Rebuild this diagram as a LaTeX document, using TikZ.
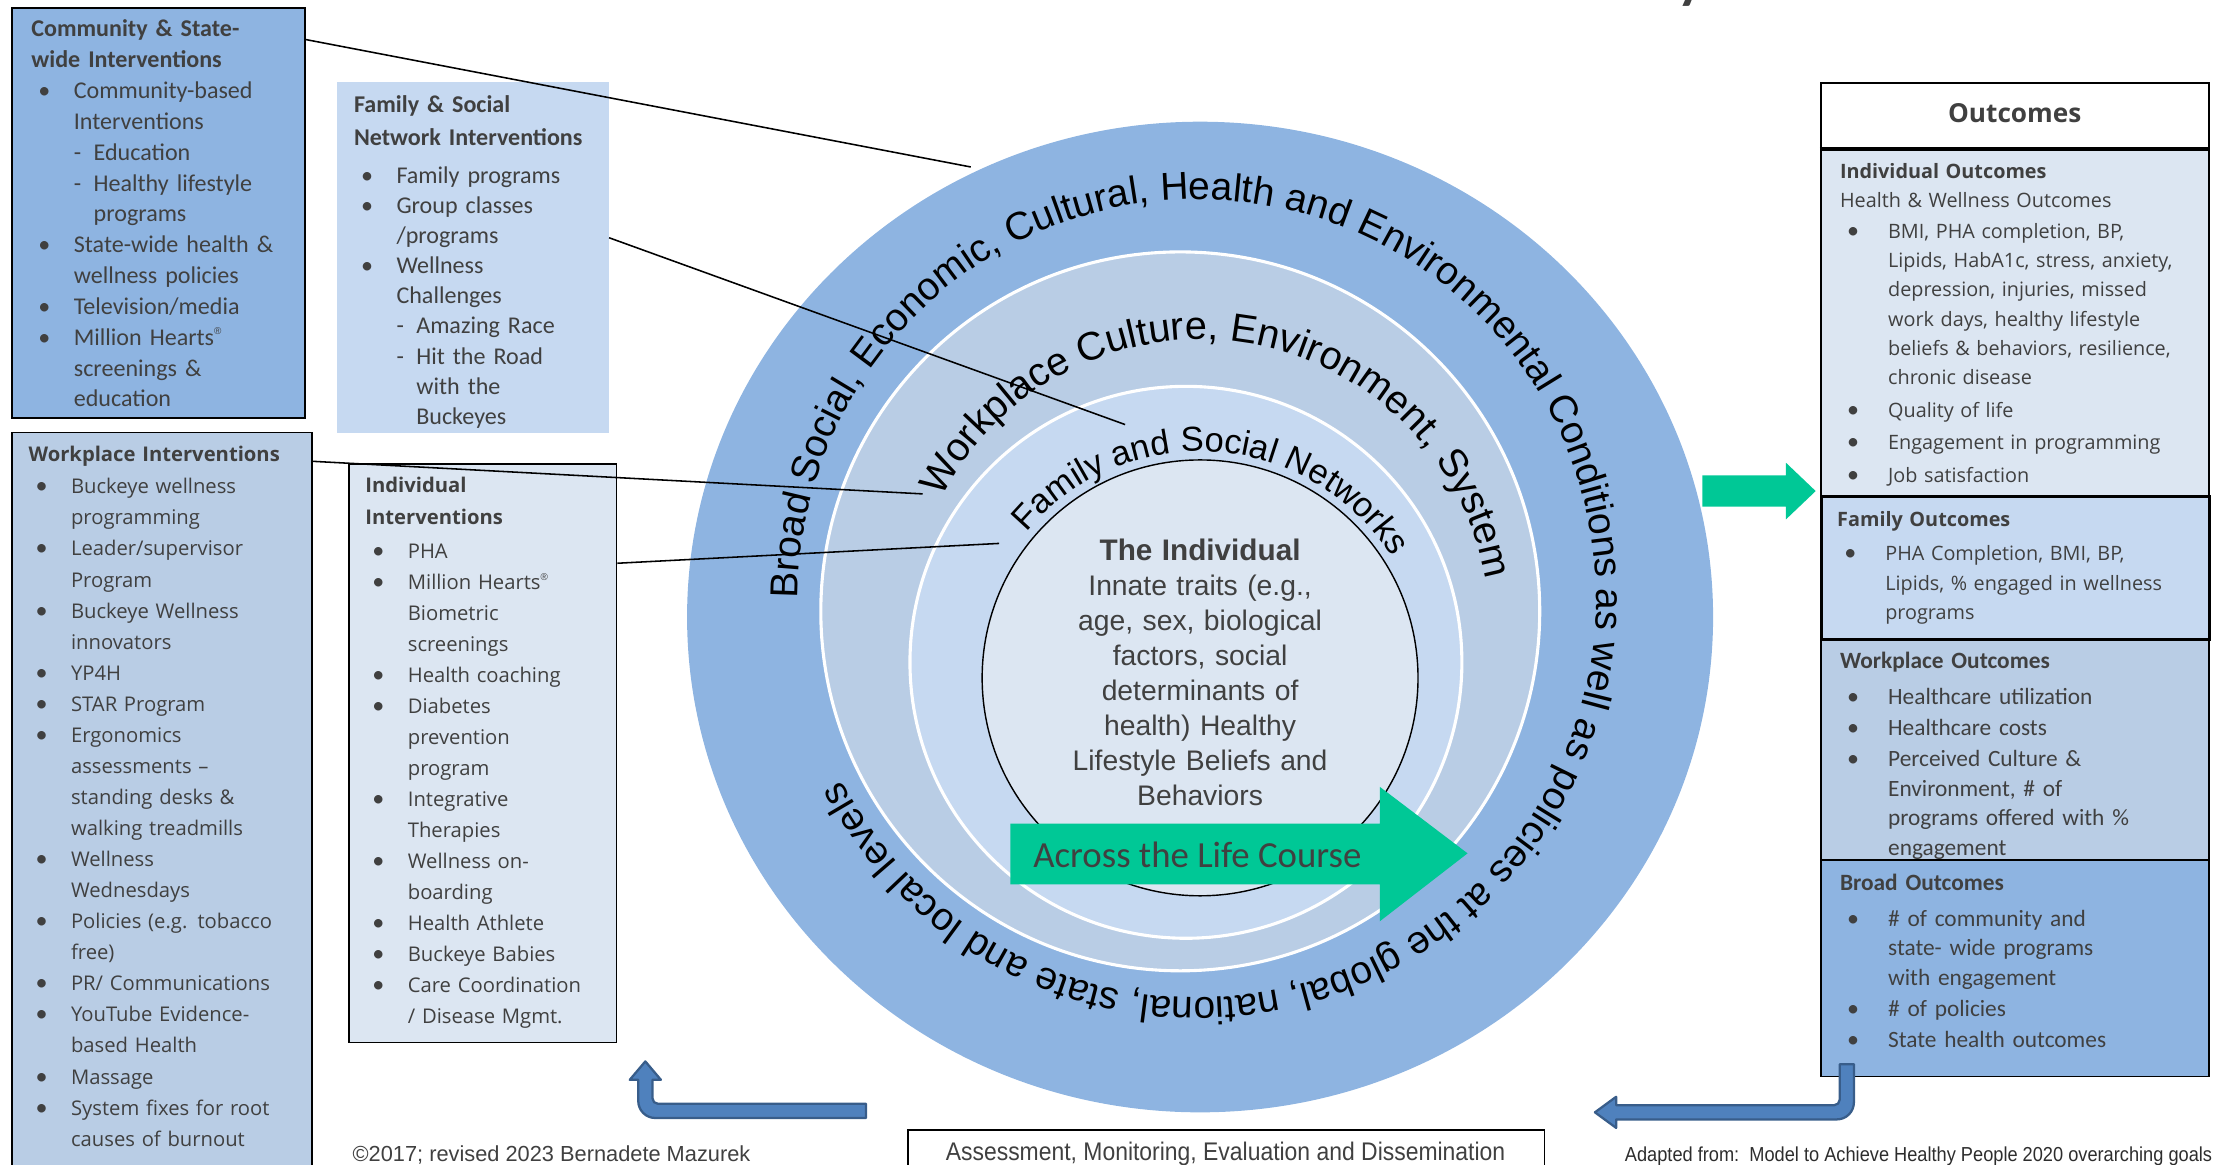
\documentclass[tikz,border=0pt]{standalone}
\usepackage{fontspec}
\setmainfont{Liberation Sans}
\newfontfamily\calfont{Carlito}
\newfontfamily\opfont{Open Sans}
\newfontfamily\arfont{Liberation Sans}
\newfontfamily\narfont[FakeStretch=0.9]{Liberation Sans}
\usetikzlibrary{decorations.text}

\definecolor{bandA}{HTML}{8EB4E1}
\definecolor{bandB}{HTML}{B9CDE5}
\definecolor{bandC}{HTML}{C6D9F1}
\definecolor{bandD}{HTML}{DCE6F2}
\definecolor{ink}{HTML}{404040}
\definecolor{lifegreen}{HTML}{00C896}
\definecolor{loopfill}{HTML}{4F81BD}
\definecolor{loopedge}{HTML}{385D8A}

% list helpers: bullet, continuation indent, sub-dash
\newcommand\bsym{{\calfont\fontsize{17}{17}\selectfont\textbullet}}
\newcommand\bul{\hspace*{5pt}\makebox[25pt][l]{\bsym}}
\newcommand\bulw{\hspace*{5pt}\makebox[29pt][l]{\bsym}}
\newcommand\cnt{\hspace*{30pt}}
\newcommand\cntw{\hspace*{34pt}}
\newcommand\dsh{\makebox[14pt][l]{-}}
\newcommand\dshc{\hspace*{14pt}}
\newcommand\reg{\raisebox{0.45em}{\arfont\fontsize{7}{7}\selectfont ®}}
\newcommand\ringOuter{\arfont\fontsize{27.5}{30}\selectfont}
\newcommand\ringMid{\arfont\fontsize{28}{30}\selectfont}
\newcommand\ringIn{\arfont\fontsize{24.4}{26}\selectfont}

\tikzset{
  panel/.style={draw=black, line width=1.3pt, inner sep=0pt, anchor=north west},
  listtext/.style={inner sep=0pt, anchor=base west, align=left, text=ink, text width=300pt},
  link/.style={draw=black, line width=1.1pt},
  loop/.style={fill=loopfill, draw=loopedge, line width=1.6pt, line join=round},
}

\begin{document}
\begin{tikzpicture}[x=1pt,y=1pt]
\useasboundingbox (0,0) rectangle (1568,823);
\clip (0,0) rectangle (1568,823);

% ---------- intervention panels (left) ----------
\node[panel, fill=bandA, minimum width=207pt, minimum height=290pt] (comm) at (8,818) {};
\node[listtext, font=\calfont\fontsize{17}{21.8}\selectfont] (commtxt) at (22,797) {%
\textbf{Community \& State-}\\
\textbf{wide Interventions}\\
\bul Community-based\\
\cnt Interventions\\
\cnt\dsh Education\\
\cnt\dsh Healthy lifestyle\\
\cnt\dshc programs\\
\bul State-wide health \&\\
\cnt wellness policies\\
\bul Television/media\\
\bul Million Hearts\reg\\
\cnt screenings \&\\
\cnt education};

\node[inner sep=0pt, anchor=north west, fill=bandC, minimum width=192pt, minimum height=248pt] (famnet) at (238,765) {};
\node[listtext, font=\calfont\fontsize{17}{21.3}\selectfont] (famnettxt) at (250,743.5) {%
\textbf{Family \& Social}\\[1.7pt]
\textbf{Network Interventions}\\[5.7pt]
\bul Family programs\\
\bul Group classes\\
\cnt /programs\\
\bul Wellness\\
\cnt Challenges\\
\cnt\dsh Amazing Race\\
\cnt\dsh Hit the Road\\
\cnt\dshc with the\\
\cnt\dshc Buckeyes};

\node[panel, fill=bandB, minimum width=212pt, minimum height=530pt] (work) at (8,518) {};
\node[listtext, font=\opfont\fontsize{14.3}{21.95}\selectfont] (worktxt) at (20,497) {%
\textbf{Workplace Interventions}\\[1pt]
\bul Buckeye wellness\\
\cnt programming\\
\bul Leader/supervisor\\
\cnt Program\\
\bul Buckeye Wellness\\
\cnt innovators\\
\bul YP4H\\
\bul STAR Program\\
\bul Ergonomics\\
\cnt assessments –\\
\cnt standing desks \&\\
\cnt walking treadmills\\
\bul Wellness\\
\cnt Wednesdays\\
\bul Policies (e.g. tobacco\\
\cnt free)\\
\bul PR/ Communications\\
\bul YouTube Evidence-\\
\cnt based Health\\
\bul Massage\\
\bul System fixes for root\\
\cnt causes of burnout};

\node[panel, fill=bandD, minimum width=189pt, minimum height=409pt] (indiv) at (246,496) {};
\node[listtext, font=\opfont\fontsize{14.3}{21.9}\selectfont] (indivtxt) at (258,475) {%
\textbf{Individual}\\[1pt]
\textbf{Interventions}\\[2pt]
\bul PHA\\
\bul Million Hearts\reg\\
\cnt Biometric\\
\cnt screenings\\
\bul Health coaching\\
\bul Diabetes\\
\cnt prevention\\
\cnt program\\
\bul Integrative\\
\cnt Therapies\\
\bul Wellness on-\\
\cnt boarding\\
\bul Health Athlete\\
\bul Buckeye Babies\\
\bul Care Coordination\\
\cnt / Disease Mgmt.};

% ---------- nested levels of influence ----------
\fill[bandA] (848,387) ellipse [x radius=362.5, y radius=350];
\filldraw[fill=bandB, draw=white, line width=2.2pt] (834,391) circle [radius=254];
\filldraw[fill=bandC, draw=white, line width=2.2pt] (838,355) circle [radius=195];
\node[circle, draw=black, line width=1pt, fill=bandD, minimum size=308pt, inner sep=0pt] (core) at (848,344) {};

\path[decorate, decoration={text along path, text={|\ringOuter|Broad Social, Economic, Cultural, Health and Environmental Conditions as well as policies at the global, national, state and local levels}}]
  ([shift={(180:282)}]846,400) arc[start angle=180, end angle=-178, radius=282];
\path[decorate, decoration={text along path, text={|\ringMid|Workplace Culture, Environment, System}}]
  ([shift={(153:205)}]848,378) arc[start angle=153, end angle=-30, radius=205];
\path[decorate, decoration={text along path, text={|\ringIn|Family and Social Networks}}]
  ([shift={(140:160)}]848,344) arc[start angle=140, end angle=-10, radius=160];

\node[inner sep=0pt, text width=330pt, align=center, anchor=base, text=ink,
      font=\arfont\fontsize{20}{24.7}\selectfont] (coretxt) at (848,427) {%
{\bfseries\fontsize{21}{24.7}\selectfont The Individual}\\
Innate traits (e.g.,\\
age, sex, biological\\
factors, social\\
determinants of\\
health) Healthy\\
Lifestyle Beliefs and\\
Behaviors};

% life-course arrow
\fill[lifegreen] (714,241) -- (975,241) -- (975,267) -- (1037,220) -- (975,172) -- (975,198) -- (714,198) -- cycle;
\node[anchor=west, inner sep=0pt, text=ink, font=\calfont\fontsize{26}{26}\selectfont] (lifecourse) at (730,219) {Across the Life Course};

% ---------- outcomes panel (right) ----------
\fill[lifegreen] (1203,487) -- (1262,487) -- (1262,496) -- (1283,476) -- (1262,456) -- (1262,465) -- (1203,465) -- cycle;

\node[panel, fill=white, minimum width=274pt, minimum height=46pt] (outhead) at (1286,765) {};
\node[panel, fill=bandD, minimum width=274pt, minimum height=246pt] (outind) at (1286,719) {};
\node[panel, fill=bandB, minimum width=274pt, minimum height=156pt] (outwork) at (1286,372) {};
\node[panel, fill=bandA, minimum width=274pt, minimum height=153pt] (outbroad) at (1286,216) {};
\node[panel, fill=bandC, line width=2pt, minimum width=274pt, minimum height=101pt] (outfam) at (1286,473) {};
\draw[line width=2.4pt] (outhead.south west) -- (outhead.south east);

\node[text=ink, font=\opfont\bfseries\fontsize{18.5}{20}\selectfont] (outtitle) at ([yshift=1.5pt]outhead.center) {Outcomes};

\node[listtext, font=\opfont\fontsize{14}{20.7}\selectfont] (outindtxt) at (1300,697) {%
\textbf{Individual Outcomes}\\
Health \& Wellness Outcomes\\[1pt]
\bulw BMI, PHA completion, BP,\\
\cntw Lipids, HabA1c, stress, anxiety,\\
\cntw depression, injuries, missed\\
\cntw work days, healthy lifestyle\\
\cntw beliefs \& behaviors, resilience,\\
\cntw chronic disease\\[2.3pt]
\bulw Quality of life\\[2.3pt]
\bulw Engagement in programming\\[2.3pt]
\bulw Job satisfaction};

\node[listtext, font=\opfont\fontsize{14}{21}\selectfont] (outfamtxt) at (1298,451) {%
\textbf{Family Outcomes}\\[3pt]
\bulw PHA Completion, BMI, BP,\\
\cntw Lipids, \% engaged in wellness\\
\cntw programs};

\node[listtext, font=\calfont\fontsize{16.5}{21}\selectfont] (outworktxt) at (1300,350.5) {%
\textbf{Workplace Outcomes}\\[4pt]
\bulw Healthcare utilization\\[1pt]
\bulw Healthcare costs\\[1pt]
\bulw Perceived Culture \&\\
\cntw Environment, \# of\\
\cntw programs offered with \%\\
\cntw engagement};

\node[listtext, font=\calfont\fontsize{16.5}{21}\selectfont] (outbroadtxt) at (1300,193.5) {%
\textbf{Broad Outcomes}\\[4pt]
\bulw \# of community and\\
\cntw state- wide programs\\
\cntw with engagement\\[1pt]
\bulw \# of policies\\[1pt]
\bulw State health outcomes};

% ---------- feedback loop arrows ----------
\path[loop] (1300,71) -- (1310,71) [rounded corners=12pt] -- (1310,32) [sharp corners] -- (1142,32) -- (1142,26) -- (1127,37) -- (1142,48) -- (1142,42) [rounded corners=4pt] -- (1300,42) [sharp corners] -- cycle;
\path[loop] (612,43) [rounded corners=4pt] -- (461,43) [sharp corners] -- (461,60) -- (467,60) -- (456,73) -- (445,60) -- (451,60) [rounded corners=12pt] -- (451,33) [sharp corners] -- (612,33) -- cycle;

% ---------- footer ----------
\node[draw=black, line width=1pt, fill=white, inner sep=0pt, minimum width=450pt, minimum height=40pt, anchor=north west] (assess) at (641,25) {};
\node[anchor=base, inner sep=0pt, text=ink, font=\narfont\fontsize{18}{20}\selectfont] (assesstxt) at (866,3) {Assessment, Monitoring, Evaluation and Dissemination};
\node[anchor=base west, inner sep=0pt, text=ink, font=\arfont\fontsize{15.4}{16}\selectfont] (credit) at (249,2) {©2017; revised 2023 Bernadete Mazurek};
\node[anchor=base west, inner sep=0pt, text=ink!70!black, font=\narfont\fontsize{14.3}{16}\selectfont] (source) at (1148,2) {Adapted from:\ \ Model to Achieve Healthy People 2020 overarching goals};
\node[anchor=base, inner sep=0pt, text=ink, font=\calfont\bfseries\fontsize{40}{40}\selectfont] (headtail) at (1195,825) {y};

% ---------- leader lines from panels to their level ----------
\coordinate (endA) at (686,705);
\coordinate (endB) at (795,523);
\coordinate (endC) at (652,474);
\coordinate (endD) at (706,439);
\draw[link] ([yshift=-23pt]comm.north east) -- (endA);
\draw[link] ([yshift=-110pt]famnet.north east) -- (endB);
\draw[link] ([yshift=-21pt]work.north east) -- (endC);
\draw[link] ([yshift=-71pt]indiv.north east) -- (endD);
\end{tikzpicture}
\end{document}
